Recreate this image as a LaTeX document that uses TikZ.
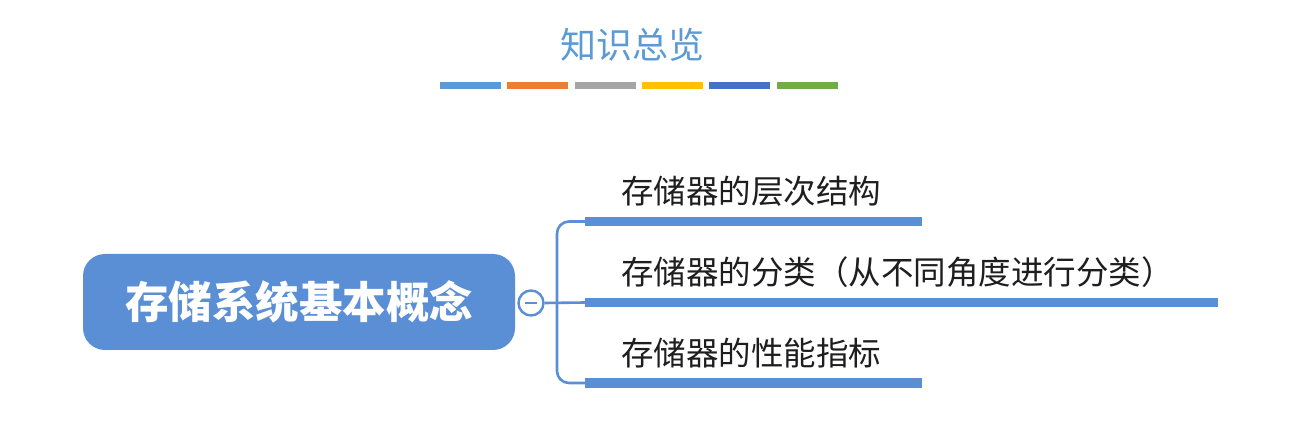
\documentclass[tikz,border=0pt]{standalone}
\usepackage{fontspec}
\newfontfamily\cjk{Noto Sans CJK SC}
\definecolor{titleblue}{HTML}{5B9BD5}
\definecolor{rootblue}{HTML}{5A8ED5}
\definecolor{cA}{HTML}{5B9BD5}
\definecolor{cB}{HTML}{ED7D31}
\definecolor{cC}{HTML}{A5A5A5}
\definecolor{cD}{HTML}{FFC000}
\definecolor{cE}{HTML}{4472C4}
\definecolor{cF}{HTML}{70AD47}
\definecolor{txt}{HTML}{1E1E1E}
\begin{document}
\begin{tikzpicture}[x=1pt,y=-1pt,
  titlestyle/.style={font=\cjk\fontsize{36}{39}\selectfont, text=titleblue, inner sep=0pt},
  colorbar/.style={fill=#1, draw=none, minimum width=61pt, minimum height=7pt, inner sep=0pt, anchor=west},
  rootbox/.style={fill=rootblue, draw=none, rounded corners=22pt, minimum width=432pt, minimum height=96pt,
    text=white, font=\cjk\bfseries\fontsize{43.5}{48}\selectfont, inner sep=0pt},
  toggle/.style={circle, draw=rootblue, fill=white, line width=2.4pt, minimum size=25pt, inner sep=0pt},
  branchbar/.style={fill=rootblue, draw=none, minimum height=9pt, inner sep=0pt, anchor=west},
  item/.style={font=\cjk\fontsize{32.5}{36}\selectfont, text=txt, inner sep=0pt, anchor=west},
  conn/.style={draw=rootblue, line width=2.6pt}
]
\useasboundingbox (0,0) rectangle (1299,430);
\fill[white] (0,0) rectangle (1299,430);

% title
\node[titlestyle] (title) at (632,45) {知识总览};
\node[colorbar=cA] (k1) at (440,86) {};
\node[colorbar=cB] (k2) at (507,86) {};
\node[colorbar=cC] (k3) at (575,86) {};
\node[colorbar=cD] (k4) at (642,86) {};
\node[colorbar=cE] (k5) at (709,86) {};
\node[colorbar=cF] (k6) at (777,86) {};

% root
\node[rootbox] (root) at (299,302) {存储系统基本概念};
\node[toggle] (tog) at (531,303) {};
\draw[rootblue, line width=2.4pt] ([xshift=-6pt]tog.center) -- ([xshift=6pt]tog.center);

% branch bars
\node[branchbar, minimum width=337pt] (b1) at (585,221.5) {};
\node[branchbar, minimum width=633pt] (b2) at (585,302.5) {};
\node[branchbar, minimum width=337pt] (b3) at (585,383) {};

\coordinate (fork) at (557,302.5);
\draw[conn] (tog.east) -- (b2.west);
\draw[conn, rounded corners=12pt] (fork) |- (b1.west);
\draw[conn, rounded corners=12pt] (fork) |- (b3.west);

% labels
\node[item] (t1) at (621,191) {存储器的层次结构};
\node[item] (t2) at (621,272) {存储器的分类（从不同角度进行分类）};
\node[item] (t3) at (621,353) {存储器的性能指标};
\end{tikzpicture}
\end{document}
